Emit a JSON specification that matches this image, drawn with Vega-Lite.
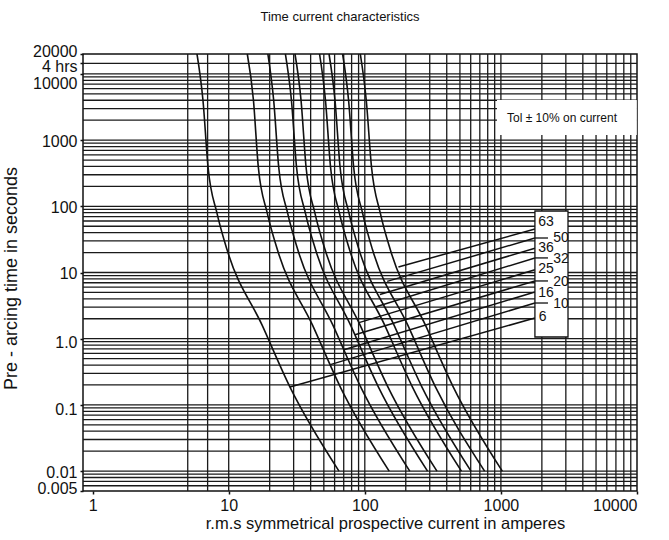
{
  "$schema": "https://vega.github.io/schema/vega-lite/v6.json",
  "width": 554,
  "height": 437,
  "autosize": "none",
  "padding": {"left": 83, "top": 54, "right": 32, "bottom": 49},
  "background": "white",
  "config": {"view": {"stroke": "#111", "strokeWidth": 1.5}, "font": "Liberation Sans"},
  "title": {"text": "Time current characteristics", "font": "Liberation Sans", "fontSize": 13, "fontWeight": "normal", "color": "#111", "anchor": "middle", "dx": -20, "baseline": "alphabetic", "offset": 9},
  "datasets": {
    "hgrid": [
      {"t": 0.006}, {"t": 0.007}, {"t": 0.008}, {"t": 0.009}, {"t": 0.01},
      {"t": 0.02}, {"t": 0.03}, {"t": 0.04}, {"t": 0.05}, {"t": 0.06}, {"t": 0.07}, {"t": 0.08}, {"t": 0.09}, {"t": 0.1},
      {"t": 0.2}, {"t": 0.3}, {"t": 0.4}, {"t": 0.5}, {"t": 0.6}, {"t": 0.7}, {"t": 0.8}, {"t": 0.9}, {"t": 1},
      {"t": 2}, {"t": 3}, {"t": 4}, {"t": 5}, {"t": 6}, {"t": 7}, {"t": 8}, {"t": 9}, {"t": 10},
      {"t": 20}, {"t": 30}, {"t": 40}, {"t": 50}, {"t": 60}, {"t": 70}, {"t": 80}, {"t": 90}, {"t": 100},
      {"t": 200}, {"t": 300}, {"t": 400}, {"t": 500}, {"t": 600}, {"t": 700}, {"t": 800}, {"t": 900}, {"t": 1000},
      {"t": 2000}, {"t": 3000}, {"t": 4000}, {"t": 5000}, {"t": 6000}, {"t": 7000}, {"t": 8000}, {"t": 9000}, {"t": 10000},
      {"t": 14400}
    ],
    "vgrid": [
      {"i": 5}, {"i": 7}, {"i": 10},
      {"i": 20}, {"i": 30}, {"i": 40}, {"i": 50}, {"i": 60}, {"i": 70}, {"i": 80}, {"i": 90}, {"i": 100},
      {"i": 200}, {"i": 300}, {"i": 400}, {"i": 500}, {"i": 600}, {"i": 700}, {"i": 800}, {"i": 900}, {"i": 1000},
      {"i": 2000}, {"i": 3000}, {"i": 4000}, {"i": 5000}, {"i": 6000}, {"i": 7000}, {"i": 8000}, {"i": 9000}
    ],
    "curves": [
      {"r": "6", "i": 5.85, "t": 20000}, {"r": "6", "i": 6.47, "t": 4000}, {"r": "6", "i": 7.05, "t": 393}, {"r": "6", "i": 8.2, "t": 79}, {"r": "6", "i": 9.73, "t": 22}, {"r": "6", "i": 17.6, "t": 1.6}, {"r": "6", "i": 28.2, "t": 0.186}, {"r": "6", "i": 64.6, "t": 0.01},
      {"r": "10", "i": 13.7, "t": 20000}, {"r": "10", "i": 15.2, "t": 4000}, {"r": "10", "i": 16.5, "t": 393}, {"r": "10", "i": 19.2, "t": 79}, {"r": "10", "i": 22.8, "t": 22}, {"r": "10", "i": 41.3, "t": 1.6}, {"r": "10", "i": 66.1, "t": 0.186}, {"r": "10", "i": 151, "t": 0.01},
      {"r": "16", "i": 19.4, "t": 20000}, {"r": "16", "i": 21.4, "t": 4000}, {"r": "16", "i": 23.3, "t": 393}, {"r": "16", "i": 27.1, "t": 79}, {"r": "16", "i": 32.2, "t": 22}, {"r": "16", "i": 58.3, "t": 1.6}, {"r": "16", "i": 93.4, "t": 0.186}, {"r": "16", "i": 214, "t": 0.01},
      {"r": "20", "i": 26.1, "t": 20000}, {"r": "20", "i": 28.9, "t": 4000}, {"r": "20", "i": 31.5, "t": 393}, {"r": "20", "i": 36.6, "t": 79}, {"r": "20", "i": 43.5, "t": 22}, {"r": "20", "i": 78.6, "t": 1.6}, {"r": "20", "i": 126, "t": 0.186}, {"r": "20", "i": 289, "t": 0.01},
      {"r": "25", "i": 30.7, "t": 20000}, {"r": "25", "i": 34.0, "t": 4000}, {"r": "25", "i": 37.0, "t": 393}, {"r": "25", "i": 43.0, "t": 79}, {"r": "25", "i": 51.1, "t": 22}, {"r": "25", "i": 92.4, "t": 1.6}, {"r": "25", "i": 148, "t": 0.186}, {"r": "25", "i": 339, "t": 0.01},
      {"r": "32", "i": 46.5, "t": 20000}, {"r": "32", "i": 51.4, "t": 4000}, {"r": "32", "i": 56.0, "t": 393}, {"r": "32", "i": 65.1, "t": 79}, {"r": "32", "i": 77.3, "t": 22}, {"r": "32", "i": 140, "t": 1.6}, {"r": "32", "i": 224, "t": 0.186}, {"r": "32", "i": 513, "t": 0.01},
      {"r": "36", "i": 54.6, "t": 20000}, {"r": "36", "i": 60.4, "t": 4000}, {"r": "36", "i": 65.8, "t": 393}, {"r": "36", "i": 76.5, "t": 79}, {"r": "36", "i": 90.8, "t": 22}, {"r": "36", "i": 164, "t": 1.6}, {"r": "36", "i": 263, "t": 0.186}, {"r": "36", "i": 603, "t": 0.01},
      {"r": "50", "i": 68.7, "t": 20000}, {"r": "50", "i": 76.0, "t": 4000}, {"r": "50", "i": 82.8, "t": 393}, {"r": "50", "i": 96.3, "t": 79}, {"r": "50", "i": 114, "t": 22}, {"r": "50", "i": 207, "t": 1.6}, {"r": "50", "i": 331, "t": 0.186}, {"r": "50", "i": 759, "t": 0.01},
      {"r": "63", "i": 92.7, "t": 20000}, {"r": "63", "i": 102.5, "t": 4000}, {"r": "63", "i": 112, "t": 393}, {"r": "63", "i": 130, "t": 79}, {"r": "63", "i": 154, "t": 22}, {"r": "63", "i": 279, "t": 1.6}, {"r": "63", "i": 447, "t": 0.186}, {"r": "63", "i": 1024, "t": 0.01}
    ],
    "leaders": [
      {"r": "6", "i": 28.2, "t": 0.186}, {"r": "6", "i": 1778, "t": 2.05},
      {"r": "10", "i": 55.8, "t": 0.406}, {"r": "10", "i": 1778, "t": 3.46},
      {"r": "16", "i": 70.3, "t": 0.682}, {"r": "16", "i": 1778, "t": 5.08},
      {"r": "20", "i": 84.7, "t": 1.15}, {"r": "20", "i": 1778, "t": 7.45},
      {"r": "25", "i": 90.6, "t": 1.75}, {"r": "25", "i": 1778, "t": 11.0},
      {"r": "32", "i": 121, "t": 3.04}, {"r": "32", "i": 1778, "t": 16.6},
      {"r": "36", "i": 129, "t": 4.65}, {"r": "36", "i": 1778, "t": 23.3},
      {"r": "50", "i": 146, "t": 7.34}, {"r": "50", "i": 1778, "t": 33.2},
      {"r": "63", "i": 176.6, "t": 12.1}, {"r": "63", "i": 1778, "t": 45.4}
    ],
    "box": [{"i1": 1778, "i2": 3112, "t1": 1.06, "t2": 85}],
    "seps": [{"i1": 1778, "i2": 2218, "t": 33.2}, {"i1": 1778, "i2": 2218, "t": 16.6}, {"i1": 1778, "i2": 2218, "t": 7.45}, {"i1": 1778, "i2": 2218, "t": 3.46}],
    "labels": [
      {"lab": "63", "i": 2144, "t": 58.6}, {"lab": "50", "i": 2764, "t": 33.6}, {"lab": "36", "i": 2144, "t": 23.2},
      {"lab": "32", "i": 2764, "t": 16.0}, {"lab": "25", "i": 2144, "t": 11.2}, {"lab": "20", "i": 2764, "t": 7.26},
      {"lab": "16", "i": 2144, "t": 4.95}, {"lab": "10", "i": 2764, "t": 3.35}, {"lab": "6", "i": 2028, "t": 2.15}
    ],
    "tolbox": [{"i1": 936, "i2": 9970, "t1": 1195, "t2": 4037, "ic": 2811, "tc": 2159, "txt": "Tol ± 10% on current"}]
  },
  "encoding": {
    "x": {"type": "quantitative"},
    "y": {"type": "quantitative"}
  },
  "layer": [
    {
      "data": {"name": "hgrid"},
      "mark": {"type": "rule", "color": "#1a1a1a", "strokeWidth": 1.3},
      "encoding": {
        "y": {"field": "t", "type": "quantitative",
          "scale": {"type": "log", "domain": [0.005, 20000], "nice": false},
          "axis": {
            "values": [0.005, 0.01, 0.1, 1, 10, 100, 1000, 10000, 14400, 20000],
            "labelExpr": "datum.value == 14400 ? '4 hrs' : datum.value == 1 ? '1.0' : toString(datum.value)",
            "labelOverlap": false,
            "labelFontSize": 16,
            "labelColor": "#111",
            "labelPadding": 3,
            "labelOffset": {"condition": [{"test": "datum.value == 20000", "value": -3}, {"test": "datum.value == 14400", "value": 3}, {"test": "datum.value == 10000", "value": 10}, {"test": "datum.value == 1", "value": 4}, {"test": "datum.value == 0.1", "value": 5}, {"test": "datum.value == 0.005", "value": -3}], "value": 1},
            "tickSize": 3,
            "tickColor": "#111",
            "tickWidth": 1.5,
            "domain": false,
            "grid": false,
            "title": "Pre - arcing time in seconds",
            "titleFontSize": 18,
            "titleFontWeight": "normal",
            "titleFont": "Liberation Sans",
            "titleColor": "#111",
            "titleX": -72,
            "titleY": 224,
            "titleBaseline": "middle",
            "titleAlign": "center"
          }
        }
      }
    },
    {
      "data": {"name": "vgrid"},
      "mark": {"type": "rule", "color": "#1a1a1a", "strokeWidth": 1.3},
      "encoding": {
        "x": {"field": "i", "type": "quantitative",
          "scale": {"type": "log", "domain": [0.85, 10000], "nice": false},
          "axis": {
            "values": [1, 10, 100, 1000, 10000],
            "format": "d",
            "labelFontSize": 16,
            "labelColor": "#111",
            "labelPadding": 3,
            "tickSize": 3,
            "tickColor": "#111",
            "tickWidth": 1.5,
            "domain": false,
            "grid": false,
            "title": "r.m.s symmetrical prospective current in amperes",
            "titleFontSize": 16.5,
            "titleFontWeight": "normal",
            "titleFont": "Liberation Sans",
            "titleColor": "#111",
            "titleX": 302,
            "titlePadding": 2
          }
        }
      }
    },
    {
      "data": {"name": "curves"},
      "mark": {"type": "line", "color": "#111", "strokeWidth": 1.6, "interpolate": "monotone"},
      "encoding": {
        "x": {"field": "i", "type": "quantitative"},
        "y": {"field": "t", "type": "quantitative"},
        "detail": {"field": "r"}
      }
    },
    {
      "data": {"name": "leaders"},
      "mark": {"type": "line", "color": "#111", "strokeWidth": 1.5},
      "encoding": {
        "x": {"field": "i", "type": "quantitative"},
        "y": {"field": "t", "type": "quantitative"},
        "detail": {"field": "r"}
      }
    },
    {
      "data": {"name": "box"},
      "mark": {"type": "rect", "fill": "white", "stroke": "#111", "strokeWidth": 1.3},
      "encoding": {
        "x": {"field": "i1", "type": "quantitative"},
        "x2": {"field": "i2"},
        "y": {"field": "t1", "type": "quantitative"},
        "y2": {"field": "t2"}
      }
    },
    {
      "data": {"name": "seps"},
      "mark": {"type": "rule", "color": "#111", "strokeWidth": 1.3},
      "encoding": {
        "x": {"field": "i1", "type": "quantitative"},
        "x2": {"field": "i2"},
        "y": {"field": "t", "type": "quantitative"}
      }
    },
    {
      "data": {"name": "labels"},
      "mark": {"type": "text", "fontSize": 14, "color": "#111", "align": "center", "baseline": "middle", "font": "Liberation Sans"},
      "encoding": {
        "x": {"field": "i", "type": "quantitative"},
        "y": {"field": "t", "type": "quantitative"},
        "text": {"field": "lab"}
      }
    },
    {
      "data": {"name": "tolbox"},
      "mark": {"type": "rect", "fill": "white"},
      "encoding": {
        "x": {"field": "i1", "type": "quantitative"},
        "x2": {"field": "i2"},
        "y": {"field": "t1", "type": "quantitative"},
        "y2": {"field": "t2"}
      }
    },
    {
      "data": {"name": "tolbox"},
      "mark": {"type": "text", "fontSize": 12, "color": "#111", "align": "center", "baseline": "middle", "font": "Liberation Sans"},
      "encoding": {
        "x": {"field": "ic", "type": "quantitative"},
        "y": {"field": "tc", "type": "quantitative"},
        "text": {"field": "txt"}
      }
    }
  ]
}
